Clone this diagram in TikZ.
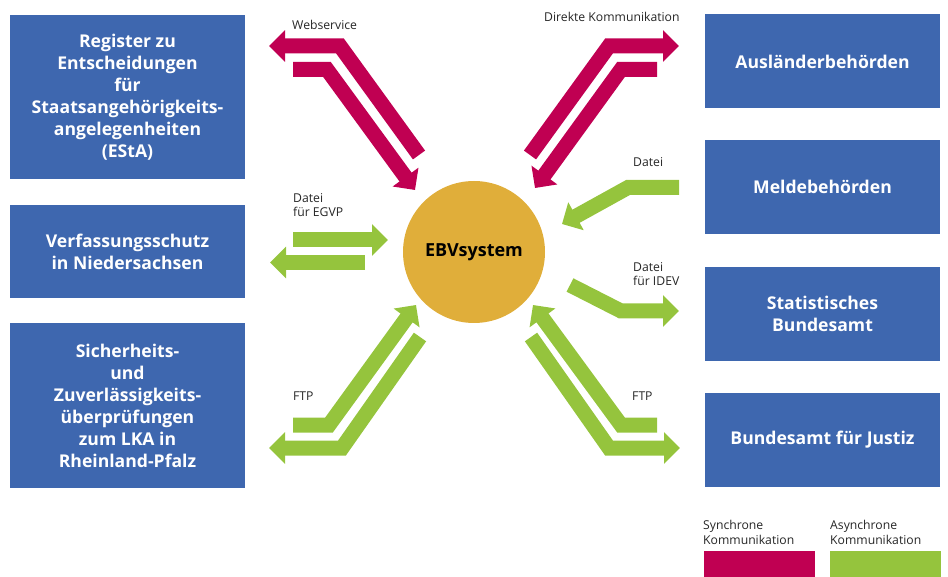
\documentclass[tikz,border=0pt]{standalone}
\usepackage{fontspec}
\setmainfont{Open Sans}
\usetikzlibrary{arrows.meta}
\definecolor{ebvblue}{RGB}{62,103,175}
\definecolor{ebvred}{RGB}{192,0,82}
\definecolor{ebvgreen}{RGB}{149,196,61}
\definecolor{ebvorange}{RGB}{224,174,58}
\begin{document}
\begin{tikzpicture}[x=1pt,y=-1pt,
	box/.style={ rectangle, fill=ebvblue, text=white, inner sep=0pt, minimum width=235pt, align=center, font=\bfseries\fontsize{17.6}{22}\selectfont },
	lbl/.style={ anchor=base west, align=left, inner sep=0pt, text=black!85, font=\fontsize{12.2}{14.5}\selectfont },
	sync/.style={ ebvred, line width=15pt, -{Triangle[width=31pt,length=16pt]} },
	async/.style={ sync, ebvgreen },
	legbox/.style={ rectangle, inner sep=0pt, minimum width=111pt, minimum height=26pt } ]
	\useasboundingbox (0,0) rectangle (948,577);

	\node[box, minimum height=164pt] (esta) at (127.5,97) {Register zu\\Entscheidungen\\für\\Staatsangehörigkeits-\\angelegenheiten\\(EStA)};
	\node[box, minimum height=93pt] (vfs) at (127.5,251.5) {Verfassungsschutz\\in Niedersachsen};
	\node[box, minimum height=165pt] (lka) at (127.5,405.5) {Sicherheits-\\und\\Zuverlässigkeits-\\überprüfungen\\zum LKA in\\Rheinland-Pfalz};

	\node[box, minimum height=94pt] (abh) at (822.5,61.5) {Ausländerbehörden};
	\node[box, minimum height=94pt] (meldb) at (822.5,187) {Meldebehörden};
	\node[box, minimum height=94pt] (destatis) at (822.5,314) {Statistisches\\Bundesamt};
	\node[box, minimum height=94pt] (bfj) at (822.5,440) {Bundesamt für Justiz};

	\node[circle, fill=ebvorange, inner sep=0pt, minimum size=142pt, font=\bfseries\fontsize{18}{20}\selectfont] (ebv) at (474,252) {EBVsystem};

	% synchron
	\coordinate (ws1) at (419,155); \coordinate (ws1e) at (269,46);
	\coordinate (ws2) at (293,69.5); \coordinate (ws2e) at (415,190);
	\draw[sync] (ws1) -- (340,46) -- (ws1e);
	\draw[sync] (ws2) -- (327,69.5) -- (ws2e);
	\coordinate (dk1) at (530,155); \coordinate (dk1e) at (679,46);
	\coordinate (dk2) at (657,69.5); \coordinate (dk2e) at (535,188);
	\draw[sync] (dk1) -- (609,46) -- (dk1e);
	\draw[sync] (dk2) -- (621,69.5) -- (dk2e);

	% asynchron
	\coordinate (egvp1) at (293,240); \coordinate (egvp1e) at (388,240);
	\coordinate (egvp2) at (365,262.5); \coordinate (egvp2e) at (270,262.5);
	\draw[async] (egvp1) -- (egvp1e);
	\draw[async] (egvp2) -- (egvp2e);
	\coordinate (mb) at (679,187.5); \coordinate (mbe) at (562,224);
	\draw[async] (mb) -- (628,187.5) -- (mbe);
	\coordinate (idev) at (570,285); \coordinate (ideve) at (679,311);
	\draw[async] (idev) -- (621,311) -- (ideve);
	\coordinate (ftpl1) at (293,425); \coordinate (ftpl1e) at (416,305);
	\coordinate (ftpl2) at (420,337); \coordinate (ftpl2e) at (269,448);
	\draw[async] (ftpl1) -- (329,425) -- (ftpl1e);
	\draw[async] (ftpl2) -- (342,448) -- (ftpl2e);
	\coordinate (ftpr1) at (657,425); \coordinate (ftpr1e) at (533,305);
	\coordinate (ftpr2) at (531,337); \coordinate (ftpr2e) at (680,448);
	\draw[async] (ftpr1) -- (621,425) -- (ftpr1e);
	\draw[async] (ftpr2) -- (609,448) -- (ftpr2e);

	\node[lbl] (lws) at (292,30) {Webservice};
	\node[lbl] (ldk) at (544,22) {Direkte Kommunikation};
	\node[lbl] (legvp) at (293,217) {Datei\\für EGVP};
	\node[lbl] (lmb) at (633,167) {Datei};
	\node[lbl] (lidev) at (633,286) {Datei\\für IDEV};
	\node[lbl] (lftpl) at (293,400) {FTP};
	\node[lbl] (lftpr) at (632,400) {FTP};

	% Legende
	\node[legbox, fill=ebvred] (legsync) at (759.5,564) {};
	\node[legbox, fill=ebvgreen] (legasync) at (885.5,564) {};
	\node[lbl] (lsync) at (703,544) {Synchrone\\Kommunikation};
	\node[lbl] (lasync) at (830,544) {Asynchrone\\Kommunikation};
\end{tikzpicture}
\end{document}
